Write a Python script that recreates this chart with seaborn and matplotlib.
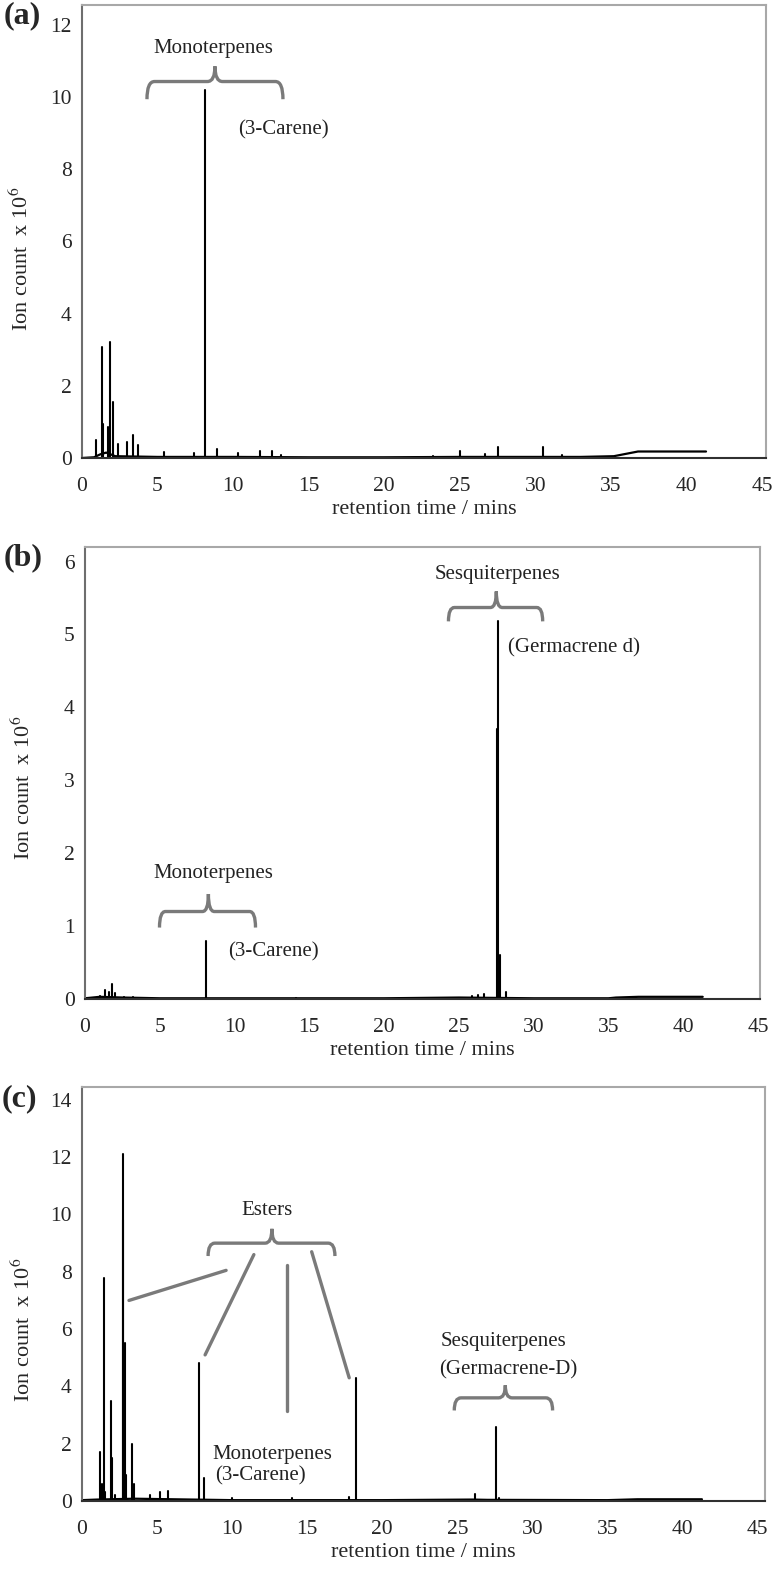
import numpy as np
import pandas as pd
import seaborn as sns
import matplotlib.pyplot as plt
from matplotlib.path import Path
from matplotlib.patches import PathPatch

# ---- data (retention time in min, ion count x 10^6) ----
# (a)
a_base_rt = [0, 0.8, 1.2, 1.6, 2.2, 5, 10, 15, 20, 25, 30, 33, 35.2, 36.8, 41.3]
a_base = [0, 0.02, 0.1, 0.15, 0.05, 0.03, 0.03, 0.02, 0.02, 0.03, 0.03, 0.03, 0.05, 0.18, 0.18]
a_peak_rt = [0.93, 1.3, 1.4, 1.75, 1.85, 2.05, 2.4, 3.0, 3.35, 3.7, 5.45, 7.4, 8.15,
             8.95, 10.35, 11.8, 12.6, 13.2, 23.2, 25.0, 26.7, 27.5, 30.5, 31.8]
a_peak_h = [0.5, 3.07, 0.95, 0.85, 3.2, 1.55, 0.38, 0.45, 0.63, 0.35, 0.18, 0.15, 10.2,
            0.25, 0.15, 0.2, 0.2, 0.08, 0.05, 0.2, 0.1, 0.3, 0.3, 0.08]

# (b)
b_base_rt = [0, 1, 2.5, 5, 10, 20, 25, 30, 35, 35.5, 37, 41.3]
b_base = [0.01, 0.03, 0.02, 0.01, 0.01, 0.01, 0.02, 0.01, 0.01, 0.02, 0.03, 0.03]
b_peak_rt = [1.0, 1.35, 1.6, 1.8, 2.0, 2.6, 3.2, 8.1, 14.1, 25.9, 26.3, 26.7,
             27.55, 27.6, 27.75, 28.15]
b_peak_h = [0.04, 0.12, 0.1, 0.2, 0.08, 0.03, 0.03, 0.8, 0.02, 0.04, 0.05, 0.07,
            3.7, 5.19, 0.6, 0.1]

# (c)
c_base_rt = [0, 1, 3.5, 10, 20, 26, 27, 35, 37, 41.3]
c_base = [0.03, 0.05, 0.08, 0.03, 0.03, 0.05, 0.04, 0.03, 0.06, 0.06]
c_peak_rt = [1.2, 1.35, 1.47, 1.55, 1.93, 2.0, 2.2, 2.73, 2.75, 2.87, 2.95, 3.33, 3.45,
             4.5, 5.2, 5.7, 7.8, 8.1, 10.0, 14.0, 17.8, 18.25, 26.2, 27.55, 27.8]
c_peak_h = [1.7, 0.6, 7.8, 0.3, 3.5, 1.5, 0.2, 12.1, 9.8, 5.5, 0.9, 2.0, 0.6,
            0.2, 0.3, 0.35, 4.8, 0.8, 0.1, 0.1, 0.15, 4.3, 0.25, 2.6, 0.1]

x_ticks = [0, 5, 10, 15, 20, 25, 30, 35, 40, 45]
a_yticks = [0, 2, 4, 6, 8, 10, 12]
b_yticks = [0, 1, 2, 3, 4, 5, 6]
c_yticks = [0, 2, 4, 6, 8, 10, 12, 14]

x_label = 'retention time / mins'
y_label = 'Ion count  x 10$^{6}$'

sns.set_style('white')
plt.rcParams['font.family'] = ['Liberation Serif', 'DejaVu Serif']
plt.rcParams['mathtext.fontset'] = 'stix'

GREY = '#7a7a7a'


def draw_trace(ax, base_rt, base, peak_rt, peak_h):
    # baseline
    sns.lineplot(x=base_rt, y=base, ax=ax, color='black', lw=1.6,
                 estimator=None, sort=False)
    # each peak as a vertical stroke from 0 up to its height
    rows = []
    for i, (t, h) in enumerate(zip(peak_rt, peak_h)):
        rows.append({'peak': i, 'rt': t, 'sig': 0.0})
        rows.append({'peak': i, 'rt': t, 'sig': h})
    spikes = pd.DataFrame(rows)
    sns.lineplot(data=spikes, x='rt', y='sig', units='peak', estimator=None,
                 ax=ax, color='black', lw=1.5, sort=False)


def brace(ax, x0, x1, xc, ye, yh, yt, rx=0.5):
    codes = [Path.MOVETO, Path.CURVE3, Path.CURVE3, Path.LINETO, Path.CURVE3, Path.CURVE3,
             Path.MOVETO, Path.CURVE3, Path.CURVE3, Path.LINETO, Path.CURVE3, Path.CURVE3]
    verts = [(x0, ye), (x0, yh), (x0 + rx, yh), (xc - rx, yh), (xc, yh), (xc, yt),
             (xc, yt), (xc, yh), (xc + rx, yh), (x1 - rx, yh), (x1, yh), (x1, ye)]
    ax.add_patch(PathPatch(Path(verts, codes), fill=False, edgecolor=GREY, lw=2.4))


def style_axes(ax, ymax, yticks, xmax, lab_x, lab_y):
    ax.set_xlim(0, xmax)
    ax.set_ylim(0, ymax)
    ax.set_xticks(x_ticks)
    ax.set_yticks(yticks)
    ax.tick_params(axis='both', labelsize=15.5, direction='inout', length=5,
                   width=1, color='#555555')
    ax.tick_params(axis='x', pad=11)
    ax.tick_params(axis='y', pad=5)
    ax.set_xlabel(x_label, fontsize=16, labelpad=3)
    ax.set_ylabel(y_label, fontsize=16)
    ax.yaxis.set_label_coords(lab_x, lab_y)
    ax.spines['left'].set_color('#6e6e6e')
    ax.spines['bottom'].set_color('#303030')
    ax.spines['top'].set_color('#a8a8a8')
    ax.spines['right'].set_color('#a8a8a8')
    for s in ax.spines.values():
        s.set_linewidth(1.5)


fig = plt.figure(figsize=(7.74, 15.78), dpi=100)
W, H = 774.0, 1578.0


def axes_px(left, right, top, bottom):
    return fig.add_axes([left / W, 1 - bottom / H, (right - left) / W, (bottom - top) / H])


ann = dict(fontsize=15, color='#222222')

# ---------------- (a) ----------------
ax_a = axes_px(82, 766, 5, 458)
draw_trace(ax_a, a_base_rt, a_base, a_peak_rt, a_peak_h)
style_axes(ax_a, 12.55, a_yticks, 45.27, -0.072, 0.44)
brace(ax_a, 4.3, 13.3, 8.8, 9.94, 10.43, 10.85)
ax_a.text(8.7, 11.35, 'Monoterpenes', ha='center', va='center', **ann)
ax_a.text(10.3, 9.08, '(3-Carene)', ha='left', va='center', **ann)
fig.text(4 / W, 1 - 16 / H, '(a)', fontsize=23, fontweight='bold', va='center', ha='left')

# ---------------- (b) ----------------
ax_b = axes_px(85, 760, 547, 999)
draw_trace(ax_b, b_base_rt, b_base, b_peak_rt, b_peak_h)
style_axes(ax_b, 6.2, b_yticks, 45.13, -0.074, 0.467)
brace(ax_b, 24.3, 30.6, 27.5, 5.18, 5.37, 5.59, rx=0.4)
ax_b.text(27.6, 5.82, 'Sesquiterpenes', ha='center', va='center', **ann)
ax_b.text(28.3, 4.82, '(Germacrene d)', ha='left', va='center', **ann)
brace(ax_b, 4.98, 11.4, 8.25, 0.98, 1.2, 1.44, rx=0.4)
ax_b.text(8.6, 1.72, 'Monoterpenes', ha='center', va='center', **ann)
ax_b.text(9.57, 0.64, '(3-Carene)', ha='left', va='center', **ann)
fig.text(4 / W, 1 - 558 / H, '(b)', fontsize=23, fontweight='bold', va='center', ha='left')

# ---------------- (c) ----------------
ax_c = axes_px(82, 765, 1087, 1501)
draw_trace(ax_c, c_base_rt, c_base, c_peak_rt, c_peak_h)
style_axes(ax_c, 14.45, c_yticks, 45.5, -0.069, 0.414)
brace(ax_c, 8.4, 16.85, 12.65, 8.55, 9.0, 9.5, rx=0.45)
ax_c.text(12.3, 10.15, 'Esters', ha='center', va='center', **ann)
for (xa, ya), (xb, yb) in [((3.13, 7.0), (9.6, 8.05)),
                           ((11.45, 8.6), (8.2, 5.1)),
                           ((13.65, 8.25), (13.65, 3.15)),
                           ((15.3, 8.7), (17.8, 4.3))]:
    ax_c.plot([xa, xb], [ya, yb], color=GREY, lw=2.4)
ax_c.text(8.7, 1.64, 'Monoterpenes', ha='left', va='center', **ann)
ax_c.text(8.9, 0.88, '(3-Carene)', ha='left', va='center', **ann)
brace(ax_c, 24.8, 31.35, 28.2, 3.16, 3.6, 4.04, rx=0.45)
ax_c.text(28.1, 5.56, 'Sesquiterpenes', ha='center', va='center', **ann)
ax_c.text(28.4, 4.57, '(Germacrene-D)', ha='center', va='center', **ann)
fig.text(2 / W, 1 - 1099 / H, '(c)', fontsize=23, fontweight='bold', va='center', ha='left')

fig.savefig('out.png', dpi=100)
